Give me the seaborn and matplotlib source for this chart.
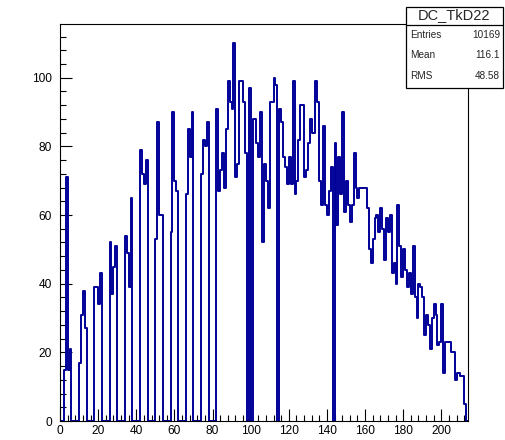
import numpy as np
import pandas as pd
import matplotlib
matplotlib.use("Agg")
import matplotlib.pyplot as plt
import seaborn as sns
from matplotlib.ticker import MultipleLocator
from matplotlib.patches import Rectangle
from matplotlib.lines import Line2D

# Histogram definition: one bin per wire, range 0..214
hist_name = "DC_TkD22"
x_low, x_high = 0, 214
counts = [
    0, 0, 15, 71, 15, 21, 0, 0, 0, 0,
    17, 31, 38, 27, 0, 0, 0, 0, 39, 39,
    34, 43, 0, 0, 0, 0, 52, 37, 45, 51,
    0, 0, 0, 0, 54, 49, 39, 65, 0, 0,
    0, 0, 79, 72, 69, 76, 0, 0, 0, 0,
    53, 87, 60, 60, 0, 0, 0, 0, 55, 90,
    70, 67, 0, 0, 0, 0, 66, 85, 77, 90,
    0, 0, 0, 0, 72, 82, 80, 87, 0, 0,
    0, 0, 91, 67, 73, 78, 68, 85, 99, 93,
    91, 110, 71, 75, 99, 99, 93, 78, 0, 97,
    0, 88, 88, 81, 77, 90, 52, 75, 70, 62,
    93, 93, 100, 98, 0, 91, 87, 77, 74, 69,
    77, 69, 99, 66, 70, 82, 92, 92, 71, 73,
    81, 88, 84, 84, 99, 93, 70, 63, 86, 63,
    60, 67, 74, 0, 81, 57, 77, 66, 90, 61,
    70, 63, 58, 63, 78, 68, 65, 68, 68, 68,
    68, 62, 50, 46, 53, 59, 60, 55, 62, 56,
    47, 59, 55, 60, 43, 46, 40, 63, 51, 42,
    50, 44, 39, 43, 37, 51, 36, 30, 40, 39,
    36, 25, 31, 28, 21, 30, 34, 31, 22, 23,
    34, 14, 23, 23, 23, 20, 20, 12, 14, 14,
    13, 13, 5, 0,
]
stat_labels = ["Entries", "Mean", "RMS"]
stat_values = ["10169", "116.1", "48.58"]
x_ticks = [0, 20, 40, 60, 80, 100, 120, 140, 160, 180, 200]
y_ticks = [0, 20, 40, 60, 80, 100]

n_bins = len(counts)
centers = x_low + (np.arange(n_bins) + 0.5) * (x_high - x_low) / n_bins
df = pd.DataFrame({"wire": centers, "count": counts})

sns.set_theme(style="ticks")
plt.rcParams["font.family"] = ["Liberation Sans", "DejaVu Sans"]

W, H = 506, 440
fig = plt.figure(figsize=(W / 100, H / 100), dpi=100)
fig.patch.set_facecolor("white")

# frame in pixel coordinates (left, top, right, bottom)
fl, ft, fr, fb = 60, 24.5, 468, 421
ax = fig.add_axes([fl / W, (H - fb) / H, (fr - fl) / W, (fb - ft) / H])

sns.histplot(data=df, x="wire", weights="count", bins=n_bins,
             binrange=(x_low, x_high), element="step", fill=False,
             color="#000099", linewidth=1.4, ax=ax)

ax.set_xlim(x_low, x_high)
ax.set_ylim(0, max(counts) * 1.05)
ax.set_xlabel("")
ax.set_ylabel("")
ax.set_xticks(x_ticks)
ax.set_yticks(y_ticks)
ax.xaxis.set_minor_locator(MultipleLocator(4))
ax.yaxis.set_minor_locator(MultipleLocator(4))
ax.tick_params(which="both", direction="in", top=False, right=False,
               colors="black", width=0.8, labelsize=8.6)
ax.tick_params(which="major", length=8.5)
ax.tick_params(which="minor", length=4.3)
ax.tick_params(axis="x", pad=3)
ax.tick_params(axis="y", pad=6)
for s in ax.spines.values():
    s.set_visible(True)
    s.set_color("black")
    s.set_linewidth(0.8)
ax.set_facecolor("white")

# statistics box
bl, bt, br, bb = 406, 6.7, 503, 88
sep = 25
fig.add_artist(Rectangle((bl / W, (H - bb) / H), (br - bl) / W, (bb - bt) / H,
                         transform=fig.transFigure, facecolor="white",
                         edgecolor="black", linewidth=0.9, zorder=5))
fig.add_artist(Line2D([bl / W, br / W], [(H - sep) / H, (H - sep) / H],
                      transform=fig.transFigure, color="black",
                      linewidth=0.9, zorder=6))
fig.text((bl + br) / 2 / W, (H - 15.5) / H, hist_name, ha="center",
         va="center", fontsize=10.5, zorder=7)
for i, (lab, val) in enumerate(zip(stat_labels, stat_values)):
    yc = (H - (35 + 20.5 * i)) / H
    fig.text((bl + 4) / W, yc, lab, ha="left", va="center", fontsize=7.2,
             zorder=7)
    fig.text((br - 3) / W, yc, val, ha="right", va="center", fontsize=7.2,
             zorder=7)

fig.savefig("out.png", dpi=100)
